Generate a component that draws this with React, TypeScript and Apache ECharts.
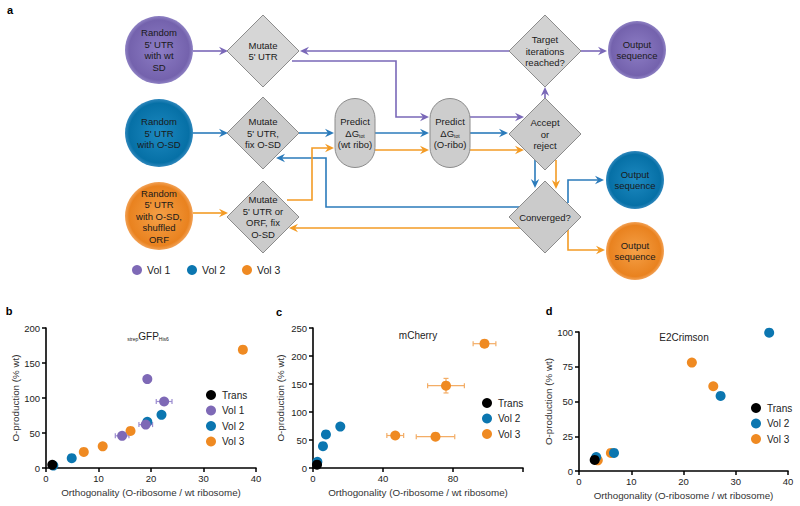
import React, { useEffect, useRef } from 'react';
import * as echarts from 'echarts';

const FONT = '"Liberation Sans", Arial, Helvetica, sans-serif';
const C_TRANS = '#000000';
const C_V1 = '#7e69b6';
const C_V2 = '#0b76b0';
const C_V3 = '#ef8a22';
const E_V1 = '#9c8dd0';
const E_V2 = '#4b9bd0';
const E_V3 = '#f3ad66';

// Each point: [x, y, xErr, yErr]
// Panel b: strepGFPHis6
const bTrans = [[1.2, 4.5]];
const bVol1 = [[14.5, 46, 1.3, 0], [19.0, 62, 1.3, 0], [19.3, 127, 0, 0], [22.5, 95, 1.5, 0]];
const bVol2 = [[1.4, 3.5], [4.9, 14], [19.3, 66], [22.0, 76]];
const bVol3 = [[7.2, 23], [10.8, 31], [16.1, 53], [37.5, 169]];
// Panel c: mCherry
const cTrans = [[2.3, 6]];
const cVol2 = [[2.5, 11], [5.7, 39], [7.4, 60], [15.6, 74]];
const cVol3 = [[47, 58, 4.8, 0], [70, 56, 11, 0], [76, 147, 10.5, 13], [98, 222, 6.5, 3]];
// Panel d: E2Crimson
const dTrans = [[3.0, 8]];
const dVol2 = [[3.3, 10], [6.7, 13], [27.1, 54], [36.4, 99.5, 0.6, 0]];
const dVol3 = [[3.6, 7.7], [6.1, 13], [21.6, 78], [25.7, 61]];

// Axis ranges [min, max, interval]
const bXRange = [0, 40, 10];
const bYRange = [0, 200, 50];
const cXRange = [0, 120, 40];
const cYRange = [0, 250, 50];
const dXRange = [0, 40, 10];
const dYRange = [0, 100, 25];
const cXHiddenLabels = [120];

const X_NAME = 'Orthogonality (O-ribosome / wt ribosome)';
const Y_NAME = 'O-production (% wt)';

function xAxisCfg(gi: number, r: number[], hidden: number[] = []) {
  return {
    type: 'value', gridIndex: gi, min: r[0], max: r[1], interval: r[2],
    name: X_NAME, nameLocation: 'middle', nameGap: 19,
    nameTextStyle: { fontSize: 9.8, color: '#333', fontFamily: FONT },
    axisLine: { onZero: false, lineStyle: { color: '#000', width: 1.6 } },
    axisTick: { length: 4, lineStyle: { color: '#000', width: 1.5 } },
    axisLabel: {
      fontSize: 9.5, color: '#222', margin: 5, fontFamily: FONT,
      formatter: (v: number) => (hidden.includes(v) ? '' : String(v)),
    },
    splitLine: { show: false },
  };
}
function yAxisCfg(gi: number, r: number[], gap: number) {
  return {
    type: 'value', gridIndex: gi, min: r[0], max: r[1], interval: r[2],
    name: Y_NAME, nameLocation: 'middle', nameGap: gap,
    nameTextStyle: { fontSize: 9.8, color: '#333', fontFamily: FONT },
    axisLine: { onZero: false, lineStyle: { color: '#000', width: 1.6 } },
    axisTick: { length: 4, lineStyle: { color: '#000', width: 1.5 } },
    axisLabel: { fontSize: 9.5, color: '#222', margin: 6, fontFamily: FONT },
    splitLine: { show: false },
  };
}

function scatter(name: string, data: number[][], gi: number, color: string) {
  return {
    type: 'scatter', name, xAxisIndex: gi, yAxisIndex: gi,
    data: data.map((d) => [d[0], d[1]]),
    symbolSize: 10, itemStyle: { color, opacity: 1 },
    z: 3,
  };
}

function errSeries(data: number[][], gi: number, color: string) {
  const rows = data
    .filter((d) => (d[2] || 0) > 0 || (d[3] || 0) > 0)
    .map((d) => [d[0], d[1], d[2] || 0, d[3] || 0]);
  return {
    type: 'custom', xAxisIndex: gi, yAxisIndex: gi, silent: true, z: 2,
    data: rows,
    encode: { x: 0, y: 1 },
    renderItem: (_p: any, api: any) => {
      const x = api.value(0), y = api.value(1), xe = api.value(2), ye = api.value(3);
      const style = { stroke: color, lineWidth: 1.2 };
      const ch: any[] = [];
      const cap = 2.5;
      if (xe > 0) {
        const a = api.coord([x - xe, y]);
        const b = api.coord([x + xe, y]);
        ch.push({ type: 'line', shape: { x1: a[0], y1: a[1], x2: b[0], y2: b[1] }, style });
        ch.push({ type: 'line', shape: { x1: a[0], y1: a[1] - cap, x2: a[0], y2: a[1] + cap }, style });
        ch.push({ type: 'line', shape: { x1: b[0], y1: b[1] - cap, x2: b[0], y2: b[1] + cap }, style });
      }
      if (ye > 0) {
        const a = api.coord([x, y - ye]);
        const b = api.coord([x, y + ye]);
        ch.push({ type: 'line', shape: { x1: a[0], y1: a[1], x2: b[0], y2: b[1] }, style });
        ch.push({ type: 'line', shape: { x1: a[0] - cap, y1: a[1], x2: a[0] + cap, y2: a[1] }, style });
        ch.push({ type: 'line', shape: { x1: b[0] - cap, y1: b[1], x2: b[0] + cap, y2: b[1] }, style });
      }
      return { type: 'group', children: ch };
    },
  };
}

// ---------- Flowchart (panel a) ----------
const P_COL = '#7a68b8';
const B_COL = '#2b7bbb';
const O_COL = '#f39b25';

function arrow(pts: number[][], color: string): any[] {
  const n = pts.length;
  const tip = pts[n - 1];
  const from = pts[n - 2];
  const dx = tip[0] - from[0], dy = tip[1] - from[1];
  const len = Math.hypot(dx, dy);
  const ux = dx / len, uy = dy / len;
  const px = -uy, py = ux;
  const L = 9, W = 4.2, N = 6;
  const notch = [tip[0] - ux * N, tip[1] - uy * N];
  const linePts = pts.slice(0, n - 1).concat([notch]);
  return [
    { type: 'polyline', shape: { points: linePts }, style: { stroke: color, lineWidth: 1.6, fill: null }, z: 1 },
    {
      type: 'polygon',
      shape: {
        points: [
          tip,
          [tip[0] - ux * L + px * W, tip[1] - uy * L + py * W],
          notch,
          [tip[0] - ux * L - px * W, tip[1] - uy * L - py * W],
        ],
      },
      style: { fill: color },
      z: 2,
    },
  ];
}

function grad(c0: string, c1: string, c2: string) {
  return new echarts.graphic.RadialGradient(0.5, 0.5, 0.5, [
    { offset: 0, color: c0 },
    { offset: 0.88, color: c1 },
    { offset: 1, color: c2 },
  ]);
}
const PURPLE_G = () => grad('#8d7dc5', '#7462ad', '#8f82c4');
const BLUE_G = () => grad('#1d89c0', '#0670a6', '#3088bd');
const ORANGE_G = () => grad('#f5a047', '#e9821f', '#f2a257');

const textStyle = (text: string, extra: any = {}) => ({
  text, align: 'center', verticalAlign: 'middle', fontSize: 9.5, lineHeight: 11.5,
  fontFamily: FONT, fill: '#1a1a1a', ...extra,
});

function circle(cx: number, cy: number, r: number, fill: any, text: string) {
  return [
    { type: 'circle', shape: { cx, cy, r }, style: { fill }, z: 3 },
    { type: 'text', x: cx, y: cy, style: textStyle(text), z: 4 },
  ];
}
function diamond(cx: number, cy: number, text: string, fill: string) {
  const h = 36;
  return [
    {
      type: 'polygon',
      shape: { points: [[cx, cy - h], [cx + h, cy], [cx, cy + h], [cx - h, cy]] },
      style: { fill, stroke: '#8c8c8c', lineWidth: 1 },
      z: 3,
    },
    { type: 'text', x: cx, y: cy, style: textStyle(text), z: 4 },
  ];
}
function pill(cx: number, cy: number, which: string) {
  return [
    {
      type: 'rect',
      shape: { x: cx - 20, y: cy - 34.5, width: 40, height: 69, r: 20 },
      style: { fill: '#cdcdcd', stroke: '#8c8c8c', lineWidth: 1 },
      z: 3,
    },
    {
      type: 'text', x: cx, y: cy, z: 4,
      style: {
        ...textStyle(`Predict\n{m|ΔG}{s|tot}\n${which}`),
        rich: {
          m: { fontSize: 9.5, lineHeight: 11.5, fontFamily: FONT, fill: '#1a1a1a', verticalAlign: 'bottom' },
          s: { fontSize: 5, lineHeight: 3, fontFamily: FONT, fill: '#1a1a1a', verticalAlign: 'bottom' },
        },
      },
    },
  ];
}

function flowchart(): any[] {
  const els: any[] = [];
  // arrows
  els.push(...arrow([[193, 51], [228, 51]], P_COL));
  els.push(...arrow([[509, 51], [300, 51]], P_COL));
  els.push(...arrow([[292, 61], [396, 61], [396, 117], [429, 117]], P_COL));
  els.push(...arrow([[470, 117], [524, 117]], P_COL));
  els.push(...arrow([[545, 99], [545, 87]], P_COL));
  els.push(...arrow([[581, 51], [607, 51]], P_COL));

  els.push(...arrow([[193, 133], [228, 133]], B_COL));
  els.push(...arrow([[299, 133], [334, 133]], B_COL));
  els.push(...arrow([[375, 133], [429, 133]], B_COL));
  els.push(...arrow([[470, 133], [508, 133]], B_COL));
  els.push(...arrow([[535, 160], [535, 188]], B_COL));
  els.push(...arrow([[520, 207], [326, 207], [326, 158], [276, 158]], B_COL));
  els.push(...arrow([[568, 203], [568, 180], [604, 180]], B_COL));

  els.push(...arrow([[193, 213], [228, 213]], O_COL));
  els.push(...arrow([[287, 200], [312, 200], [312, 148], [334, 148]], O_COL));
  els.push(...arrow([[375, 150], [429, 150]], O_COL));
  els.push(...arrow([[470, 150], [524, 150]], O_COL));
  els.push(...arrow([[556, 160], [556, 189]], O_COL));
  els.push(...arrow([[521, 228], [289, 228]], O_COL));
  els.push(...arrow([[568, 230], [568, 250], [605, 250]], O_COL));

  // nodes
  els.push(...circle(159, 50, 34, PURPLE_G(), "Random\n5' UTR\nwith wt\nSD"));
  els.push(...circle(159, 133, 34, BLUE_G(), "Random\n5' UTR\nwith O-SD"));
  els.push(...circle(159, 216, 34, ORANGE_G(), "Random\n5' UTR\nwith O-SD,\nshuffled\nORF"));
  els.push(...diamond(263, 51, "Mutate\n5' UTR", '#d6d6d6'));
  els.push(...diamond(263, 133, "Mutate\n5' UTR,\nfix O-SD", '#cbcbcb'));
  els.push(...diamond(263, 217, "Mutate\n5' UTR or\nORF, fix\nO-SD", '#cbcbcb'));
  els.push(...pill(355, 133, '(wt ribo)'));
  els.push(...pill(450, 133, '(O-ribo)'));
  els.push(...diamond(545, 51, 'Target\niterations\nreached?', '#d2d2d2'));
  els.push(...diamond(545, 134, 'Accept\nor\nreject', '#cbcbcb'));
  els.push(...diamond(545, 217, 'Converged?', '#cbcbcb'));
  els.push(...circle(637, 50, 29, PURPLE_G(), 'Output\nsequence'));
  els.push(...circle(635, 180, 29, BLUE_G(), 'Output\nsequence'));
  els.push(...circle(635, 251, 29, ORANGE_G(), 'Output\nsequence'));

  // legend of panel a
  const leg = [['Vol 1', C_V1, 137], ['Vol 2', C_V2, 192], ['Vol 3', C_V3, 247]] as const;
  leg.forEach(([t, c, x]) => {
    els.push({ type: 'circle', shape: { cx: x, cy: 270, r: 5 }, style: { fill: c } });
    els.push({ type: 'text', x: x + 10, y: 270, style: { text: t, align: 'left', verticalAlign: 'middle', fontSize: 10.5, fontFamily: FONT, fill: '#222' } });
  });

  // panel letters
  const letters = [['a', 10, 10], ['b', 9, 311], ['c', 279, 312], ['d', 549, 311]] as const;
  letters.forEach(([t, x, y]) => {
    els.push({ type: 'text', x, y, style: { text: t, align: 'center', verticalAlign: 'middle', fontSize: 11, fontWeight: 'bold', fontFamily: FONT, fill: '#000' } });
  });

  // panel titles
  els.push({
    type: 'text', x: 148, y: 335, z: 5,
    style: {
      text: '{s|strep}{m|GFP}{s|His6}', align: 'center', verticalAlign: 'middle', fontFamily: FONT,
      rich: {
        m: { fontSize: 10, lineHeight: 12, fontFamily: FONT, fill: '#222', verticalAlign: 'bottom' },
        s: { fontSize: 5, lineHeight: 3, fontFamily: FONT, fill: '#222', verticalAlign: 'bottom' },
      },
    },
  });
  els.push({ type: 'text', x: 418, y: 335, style: { text: 'mCherry', align: 'center', verticalAlign: 'middle', fontSize: 10, fontFamily: FONT, fill: '#222' } });
  els.push({ type: 'text', x: 684, y: 337, style: { text: 'E2Crimson', align: 'center', verticalAlign: 'middle', fontSize: 10, fontFamily: FONT, fill: '#222' } });
  return els;
}

function legendCfg(left: number, top: number, names: string[]) {
  return {
    orient: 'vertical', left, top, data: names, icon: 'circle',
    itemWidth: 10, itemHeight: 10, itemGap: 5.5, selectedMode: false,
    textStyle: { fontSize: 10, color: '#222', fontFamily: FONT, padding: [0, 0, 0, 1] },
  };
}

export default function App() {
  const ref = useRef<HTMLDivElement>(null);
  useEffect(() => {
    if (!ref.current) return;
    const chart = echarts.init(ref.current, undefined, { renderer: 'svg' });
    const option: any = {
      animation: false,
      backgroundColor: '#ffffff',
      textStyle: { fontFamily: FONT },
      grid: [
        { left: 46, top: 328, width: 210, height: 140 },
        { left: 313, top: 328, width: 210, height: 140 },
        { left: 579, top: 332, width: 209, height: 139 },
      ],
      xAxis: [xAxisCfg(0, bXRange), xAxisCfg(1, cXRange, cXHiddenLabels), xAxisCfg(2, dXRange)],
      yAxis: [yAxisCfg(0, bYRange, 24), yAxisCfg(1, cYRange, 28), yAxisCfg(2, dYRange, 22)],
      legend: [
        legendCfg(201, 385, ['Trans', 'Vol 1', 'Vol 2', 'Vol 3']),
        legendCfg(477, 393, ['Trans', 'Vol 2', 'Vol 3']),
        legendCfg(746, 398, ['Trans', 'Vol 2', 'Vol 3']),
      ],
      series: [
        errSeries(bVol3, 0, E_V3),
        scatter('Vol 3', bVol3, 0, C_V3),
        scatter('Vol 2', bVol2, 0, C_V2),
        errSeries(bVol1, 0, E_V1),
        scatter('Vol 1', bVol1, 0, C_V1),
        scatter('Trans', bTrans, 0, C_TRANS),

        errSeries(cVol3, 1, E_V3),
        scatter('Vol 3', cVol3, 1, C_V3),
        scatter('Vol 2', cVol2, 1, C_V2),
        scatter('Trans', cTrans, 1, C_TRANS),

        scatter('Vol 3', dVol3, 2, C_V3),
        errSeries(dVol2, 2, E_V2),
        scatter('Vol 2', dVol2, 2, C_V2),
        scatter('Trans', dTrans, 2, C_TRANS),
      ],
      graphic: { elements: flowchart() },
    };
    chart.setOption(option);
    return () => chart.dispose();
  }, []);
  return <div ref={ref} style={{ position: 'absolute', left: 0, top: 0, width: 800, height: 506 }} />;
}
